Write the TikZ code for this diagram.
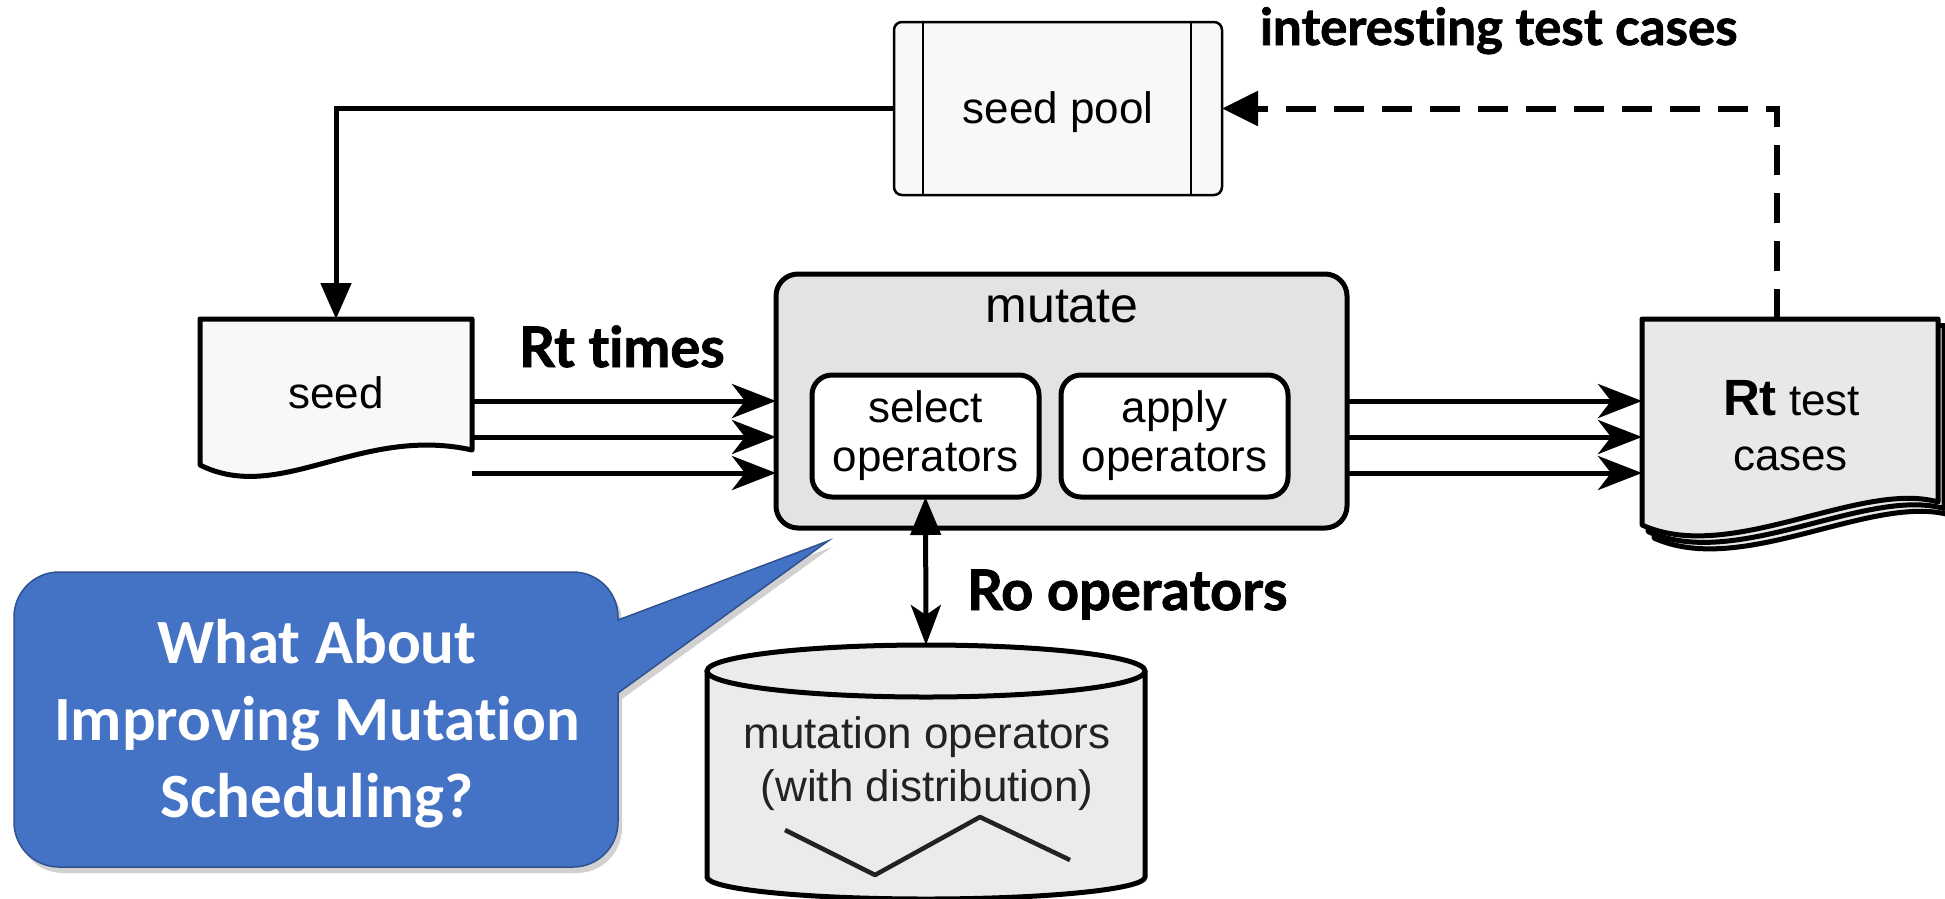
\documentclass[tikz,border=0pt]{standalone}
\usepackage{fontspec}
\setmainfont{Liberation Sans}
\newfontfamily\labelfont{Lato}[Ligatures=NoCommon, BoldFeatures={FakeBold=1.5}]
\newfontfamily\callfont{Carlito}[Ligatures=NoCommon]
\usetikzlibrary{arrows.meta,calc}
\definecolor{poolfill}{HTML}{F8F8F8}
\definecolor{mutfill}{HTML}{E3E3E3}
\definecolor{docfill}{HTML}{E8E8E8}
\definecolor{cylfill}{HTML}{EBEBEB}
\definecolor{callblue}{HTML}{4472C4}
\definecolor{calledge}{HTML}{2F528F}
\definecolor{txtgray}{HTML}{222222}
\begin{document}
\begin{tikzpicture}[x=1pt,y=-1pt,
  every node/.style={inner sep=0pt, outer sep=0pt},
  thickln/.style={line width=5pt},
  triarrow/.style={line width=5pt, -{Stealth[length=44pt,width=34pt,inset=13pt]}},
  bodytext/.style={font=\fontsize{44}{49}\selectfont, align=center},
  boldlabel/.style={font=\labelfont\bfseries\fontsize{56}{60}\selectfont, anchor=base west},
  innerbox/.style={draw, line width=5pt, rounded corners=20pt, fill=white, minimum width=227pt, minimum height=122pt, bodytext},
  calltext/.style={font=\callfont\bfseries\fontsize{63}{77}\selectfont, text=white, anchor=base},
  docpage/.style={draw, line width=5pt, fill=docfill, line join=round},
]
\useasboundingbox (0,0) rectangle (1945,898);

% ---------- seed pool ----------
\node[draw, line width=2.5pt, rounded corners=8pt, fill=poolfill,
      minimum width=328pt, minimum height=173pt] (pool) at (1058,108.5) {};
\draw[line width=2pt] ([xshift=29pt]pool.north west) -- ([xshift=29pt]pool.south west);
\draw[line width=2pt] ([xshift=-31pt]pool.north east) -- ([xshift=-31pt]pool.south east);
\node[bodytext, anchor=base] (pooltxt) at (1058,123) {seed pool};

\node[font=\labelfont\bfseries\fontsize{51}{60}\selectfont, anchor=base west] (itc) at (1260,45) {interesting test cases};

% ---------- seed document ----------
\node[minimum width=272pt, minimum height=131pt] (seedbox) at (336,384.5) {};
\draw[thickln, fill=poolfill, line join=round] (seedbox.north west) -- (seedbox.north east) -- (seedbox.south east)
  .. controls (360,425) and (280,505) .. ([yshift=-15pt]seedbox.south west) -- cycle;
\node[bodytext, anchor=base] (seedtxt) at (336,408) {seed};

\draw[thickln, -{Triangle[length=36pt,width=30pt]}] (pool.west) -| (seedbox.north);

\node[boldlabel] (rttimes) at (519,367) {Rt times};

% ---------- mutate ----------
\node[draw, line width=5pt, rounded corners=22pt, fill=mutfill,
      minimum width=571pt, minimum height=254pt] (mutate) at (1061.5,401) {};
\node[font=\fontsize{50}{50}\selectfont, anchor=base] (muttxt) at (1062,322) {mutate};
\node[innerbox] (select) at (925.5,436) {select\\operators};
\node[innerbox] (apply) at (1174.5,436) {apply\\operators};

% ---------- arrows seed -> mutate ----------
\coordinate (r1) at (0,401);
\coordinate (r2) at (0,437);
\coordinate (r3) at (0,473);
\draw[triarrow] (seedbox.east |- r1) -- (mutate.west |- r1);
\draw[triarrow] (seedbox.east |- r2) -- (mutate.west |- r2);
\draw[triarrow] (seedbox.east |- r3) -- (mutate.west |- r3);

% ---------- Rt test cases ----------
\node[minimum width=296pt, minimum height=183pt] (rt) at (1790,410.5) {};
\begin{scope}[shift={(12,13)}]
\path[docpage] (1642,319) -- (1938,319) -- (1938,502) .. controls (1860,480) and (1730,565) .. (1642,525) -- cycle;
\end{scope}
\begin{scope}[shift={(6,6.5)}]
\path[docpage] (1642,319) -- (1938,319) -- (1938,502) .. controls (1860,480) and (1730,565) .. (1642,525) -- cycle;
\end{scope}
\path[docpage] (rt.north west) -- (rt.north east) -- (rt.south east) .. controls (1860,480) and (1730,565) .. ([yshift=-23pt]rt.south west) -- cycle;
\node[bodytext, anchor=base] (rt1) at (1791.5,415) {{\bfseries\fontsize{51}{51}\selectfont Rt} test};
\node[bodytext, anchor=base] (rt2) at (1790.5,470) {cases};

\draw[triarrow] (mutate.east |- r1) -- (rt.west |- r1);
\draw[triarrow] (mutate.east |- r2) -- (rt.west |- r2);
\draw[triarrow] (mutate.east |- r3) -- (rt.west |- r3);

\draw[line width=6pt, dash pattern=on 30pt off 18pt, -{Triangle[length=36pt,width=34pt]}]
  ([xshift=-13pt]rt.north) |- (pool.east);

% ---------- cylinder ----------
\node[minimum width=438pt, minimum height=254pt] (cyl) at (926,772) {};
\path[fill=cylfill] (707,671) -- (707,877) arc[start angle=180,end angle=360,x radius=219pt,y radius=22pt] -- (1145,671) -- cycle;
\draw[thickln] (707,671) -- (707,877) arc[start angle=180,end angle=360,x radius=219pt,y radius=22pt] -- (1145,671);
\draw[thickln, fill=cylfill] (926,671) ellipse[x radius=219pt, y radius=26pt];
\node[bodytext, anchor=base, text=txtgray] (cyl1) at (927,748) {mutation operators};
\node[bodytext, anchor=base, text=txtgray] (cyl2) at (927,801) {(with distribution)};
\draw[line width=4.5pt, txtgray, line join=round] (785,830) -- (875,875) -- (980,817) -- (1070,860);

\draw[line width=5pt, {Triangle[length=38pt,width=30pt]}-{Stealth[length=40pt,width=30pt,inset=10pt]}]
  (select.south) -- (cyl.north);
\node[boldlabel] (ro) at (967,610) {Ro operators};

% ---------- callout ----------
\begin{scope}[shift={(4,6)}]
\fill[black, opacity=0.18] (59,572) -- (573,572) arc[start angle=90,end angle=0,radius=45pt] -- (618,620) -- (828,541) -- (618,693) -- (618,822) arc[start angle=0,end angle=-90,radius=45pt] -- (59,867) arc[start angle=270,end angle=180,radius=45pt] -- (14,617) arc[start angle=180,end angle=90,radius=45pt] -- cycle;
\end{scope}
\draw[fill=callblue, draw=calledge, line width=1.5pt, line join=miter]
  (59,572) -- (573,572) arc[start angle=90,end angle=0,radius=45pt] -- (618,620) -- (828,541) -- (618,693) -- (618,822) arc[start angle=0,end angle=-90,radius=45pt] -- (59,867) arc[start angle=270,end angle=180,radius=45pt] -- (14,617) arc[start angle=180,end angle=90,radius=45pt] -- cycle;
\node[calltext] (call1) at (317,663) {What About};
\node[calltext] (call2) at (317,740) {Improving Mutation};
\node[calltext] (call3) at (317,817) {Scheduling?};
\end{tikzpicture}
\end{document}
